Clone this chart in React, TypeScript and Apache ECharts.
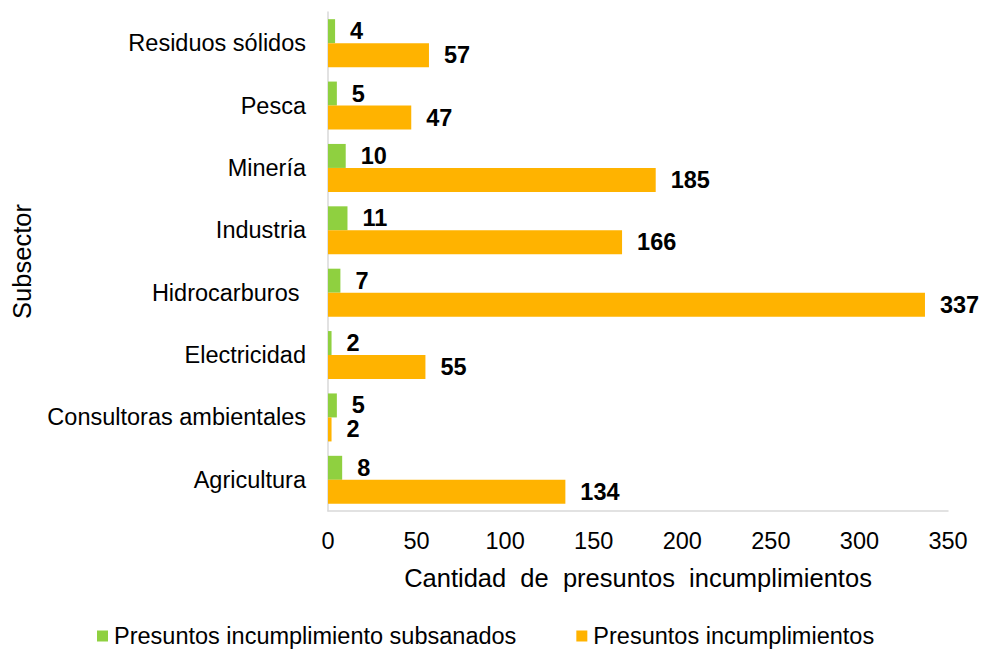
import React, { useEffect, useRef } from "react";
import * as echarts from "echarts";

const categories = [
  "Agricultura",
  "Consultoras ambientales",
  "Electricidad",
  "Hidrocarburos ",
  "Industria",
  "Minería",
  "Pesca",
  "Residuos sólidos",
];
const subsanados = [8, 5, 2, 7, 11, 10, 5, 4];
const incumplimientos = [134, 2, 55, 337, 166, 185, 47, 57];
const xTicks = [0, 50, 100, 150, 200, 250, 300, 350];

const FONT = "Arial, 'Liberation Sans', sans-serif";
const FS = 23.5;
const NAME_FS = 25.5;

export default function App() {
  const ref = useRef<HTMLDivElement>(null);
  useEffect(() => {
    if (!ref.current) return;
    const chart = echarts.init(ref.current, null, { renderer: "svg" });
    const labelStyle = {
      show: true,
      position: "right" as const,
      distance: 15,
      fontFamily: FONT,
      fontSize: FS,
      fontWeight: "bold" as const,
      color: "#000",
    };
    chart.setOption({
      animation: false,
      backgroundColor: "#fff",
      textStyle: { fontFamily: FONT },
      grid: { left: 328, right: 33, top: 12, bottom: 146, containLabel: false },
      legend: {
        left: 92,
        bottom: 4,
        icon: "rect",
        itemWidth: 11,
        itemHeight: 11,
        itemGap: 60,
        textStyle: { fontFamily: FONT, fontSize: FS, color: "#000", padding: [0, 0, 0, 1] },
        data: ["Presuntos incumplimiento subsanados", "Presuntos incumplimientos"],
      },
      xAxis: {
        type: "value",
        min: xTicks[0],
        max: xTicks[xTicks.length - 1],
        interval: 50,
        name: "Cantidad  de  presuntos  incumplimientos",
        nameLocation: "middle",
        nameGap: 54,
        nameTextStyle: { fontFamily: FONT, fontSize: NAME_FS, color: "#000" },
        axisLine: { show: true, lineStyle: { color: "#d9d9d9", width: 1.5 } },
        axisTick: { show: false },
        splitLine: { show: false },
        axisLabel: { fontFamily: FONT, fontSize: FS, color: "#000", margin: 18 },
      },
      yAxis: {
        type: "category",
        data: categories,
        name: "Subsector",
        nameLocation: "middle",
        nameGap: 293,
        nameTextStyle: { fontFamily: FONT, fontSize: NAME_FS, color: "#000" },
        axisLine: { show: true, lineStyle: { color: "#d9d9d9", width: 1.5 } },
        axisTick: { show: false },
        axisLabel: { fontFamily: FONT, fontSize: FS, color: "#000", margin: 22 },
      },
      series: [
        {
          name: "Presuntos incumplimiento subsanados",
          type: "bar",
          data: subsanados,
          barWidth: 24,
          barGap: "0%",
          itemStyle: { color: "#8FD040" },
          label: labelStyle,
        },
        {
          name: "Presuntos incumplimientos",
          type: "bar",
          data: incumplimientos,
          barWidth: 24,
          barGap: "0%",
          itemStyle: { color: "#FFB300" },
          label: labelStyle,
        },
      ],
    });
    return () => chart.dispose();
  }, []);
  return <div ref={ref} style={{ width: 981, height: 657, position: "absolute", left: 0, top: 0 }} />;
}
